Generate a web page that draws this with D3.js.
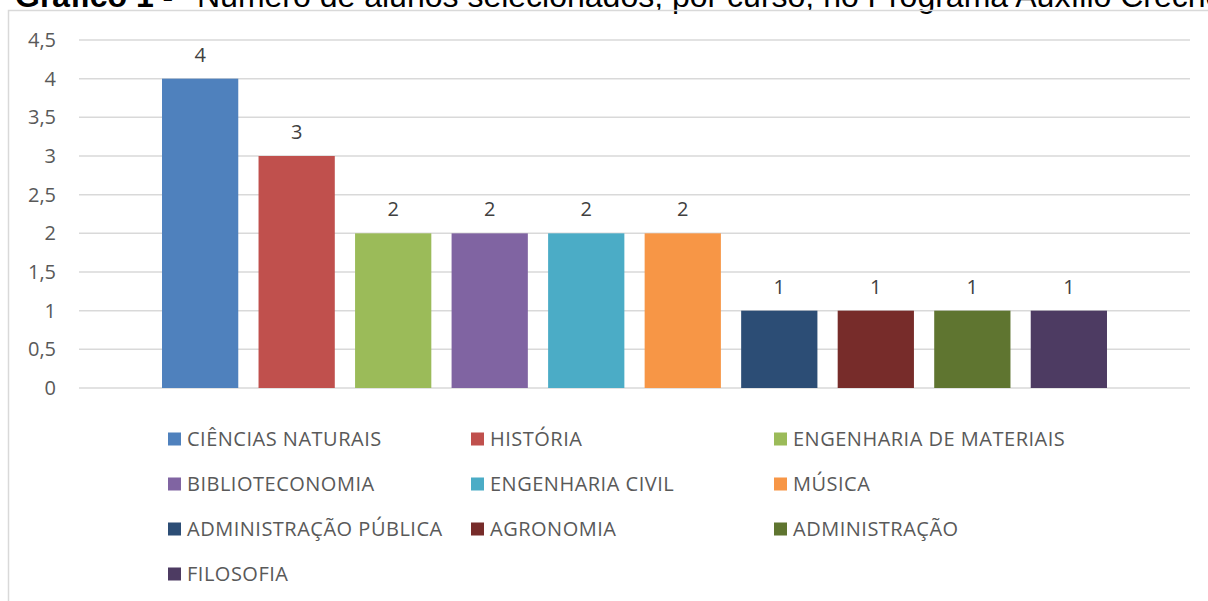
<!DOCTYPE html>
<html>
<head>
<meta charset="utf-8">
<script src="https://cdn.jsdelivr.net/npm/d3@7"></script>
<style>
  body { margin: 0; background: #fff; }
  svg { display: block; }
</style>
</head>
<body>
<script>
// Chart data
const courses = [
  "CIÊNCIAS NATURAIS", "HISTÓRIA", "ENGENHARIA DE MATERIAIS",
  "BIBLIOTECONOMIA", "ENGENHARIA CIVIL", "MÚSICA",
  "ADMINISTRAÇÃO PÚBLICA", "AGRONOMIA", "ADMINISTRAÇÃO",
  "FILOSOFIA"
];
const students = [4, 3, 2, 2, 2, 2, 1, 1, 1, 1];
const yTicks = [0, 0.5, 1, 1.5, 2, 2.5, 3, 3.5, 4, 4.5];
const colors = [
  "#4F81BD", "#C0504D", "#9BBB59", "#8064A2", "#4BACC6",
  "#F79646", "#2C4D75", "#772C2A", "#5F7530", "#4D3B62"
];

const width = 1208, height = 601;
const textColor = "#595959";
const gridColor = "#d9d9d9";

const svg = d3.select("body").append("svg")
  .attr("width", width)
  .attr("height", height);

// Title (mostly cut off at the top of the picture, like the source)
const title = svg.append("text")
  .attr("x", 15)
  .attr("y", 7)
  .attr("font-family", "Liberation Sans, Arial, sans-serif")
  .attr("font-size", 32)
  .attr("fill", "#000");
title.append("tspan").attr("font-weight", "bold").text("Gráfico 1 -");
title.append("tspan").attr("x", 197).text("Número de alunos selecionados, por curso, no Programa Auxílio Creche");

// Chart frame
svg.append("rect")
  .attr("x", 8.5)
  .attr("y", 10.5)
  .attr("width", 1300)
  .attr("height", 700)
  .attr("fill", "none")
  .attr("stroke", gridColor)
  .attr("stroke-width", 1.5);

// Scales
const x = d3.scaleBand()
  .domain(courses)
  .range([79, 1190])
  .paddingInner(0.21)
  .paddingOuter(0.86);

const y = d3.scaleLinear()
  .domain([0, 4.5])
  .range([388, 40]);

// Gridlines
svg.append("g")
  .selectAll("line")
  .data(yTicks)
  .join("line")
  .attr("x1", 79)
  .attr("x2", 1190)
  .attr("y1", d => y(d))
  .attr("y2", d => y(d))
  .attr("stroke", gridColor)
  .attr("stroke-width", 1.5);

// Y axis labels
const fmt = d => String(d).replace(".", ",");
const yAxis = svg.append("g")
  .attr("transform", "translate(56,0)")
  .call(d3.axisLeft(y).tickValues(yTicks).tickFormat(fmt).tickSize(0).tickPadding(0));
yAxis.select(".domain").remove();
yAxis.selectAll("text")
  .attr("font-family", "Open Sans, sans-serif")
  .attr("font-size", 20)
  .attr("fill", textColor);

// Bars
svg.append("g")
  .selectAll("rect")
  .data(courses)
  .join("rect")
  .attr("x", d => x(d))
  .attr("y", (d, i) => y(students[i]))
  .attr("width", x.bandwidth())
  .attr("height", (d, i) => y(0) - y(students[i]))
  .attr("fill", (d, i) => colors[i]);

// Value labels
svg.append("g")
  .selectAll("text")
  .data(courses)
  .join("text")
  .attr("x", d => x(d) + x.bandwidth() / 2)
  .attr("y", (d, i) => y(students[i]) - 17)
  .attr("text-anchor", "middle")
  .attr("font-family", "Open Sans, sans-serif")
  .attr("font-size", 20)
  .attr("fill", "#404040")
  .text((d, i) => students[i]);

// Legend (3 columns)
const colX = [168, 471, 774];
const legend = svg.append("g")
  .selectAll("g")
  .data(courses)
  .join("g")
  .attr("transform", (d, i) => `translate(${colX[i % 3]},${439 + Math.floor(i / 3) * 45})`);

legend.append("rect")
  .attr("x", 0)
  .attr("y", -6.5)
  .attr("width", 13)
  .attr("height", 13)
  .attr("fill", (d, i) => colors[i]);

legend.append("text")
  .attr("x", 19)
  .attr("dy", "0.35em")
  .attr("font-family", "Open Sans, sans-serif")
  .attr("font-size", 20)
  .attr("letter-spacing", 0.5)
  .attr("fill", textColor)
  .text(d => d);
</script>
</body>
</html>
